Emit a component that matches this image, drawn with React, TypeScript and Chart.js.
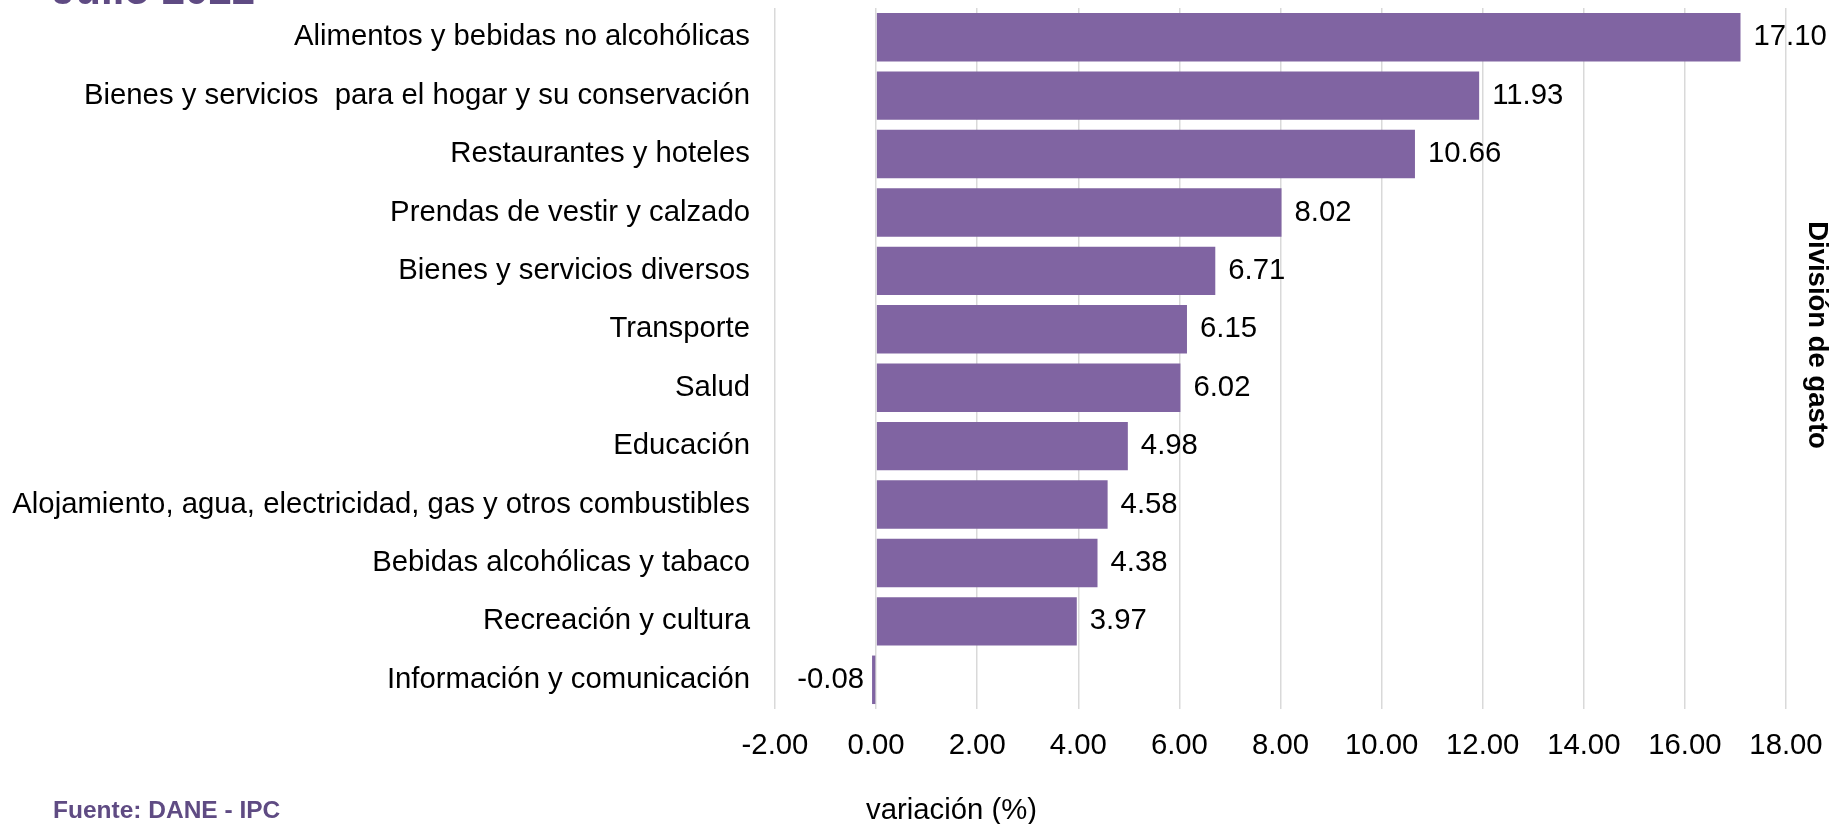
import React, { useEffect, useRef } from "react";
import { Chart, registerables } from "chart.js";

Chart.register(...registerables);

const categories: string[] = [
  "Alimentos y bebidas no alcohólicas",
  "Bienes y servicios  para el hogar y su conservación",
  "Restaurantes y hoteles",
  "Prendas de vestir y calzado",
  "Bienes y servicios diversos",
  "Transporte",
  "Salud",
  "Educación",
  "Alojamiento, agua, electricidad, gas y otros combustibles",
  "Bebidas alcohólicas y tabaco",
  "Recreación y cultura",
  "Información y comunicación",
];

const values: number[] = [17.1, 11.93, 10.66, 8.02, 6.71, 6.15, 6.02, 4.98, 4.58, 4.38, 3.97, -0.08];

const xMin = -2;
const xMax = 18;
const xStep = 2;

const titleText = "Julio 2022";
const sourceText = "Fuente: DANE - IPC";
const xTitleText = "variación (%)";
const yTitleText = "División de gasto";

const FAMILY = '"Liberation Sans", Arial, Helvetica, sans-serif';
const FS = 29.3;
const BAR = "#8064A2";
const PURPLE = "#5f4b83";
const GRID = "#d9d9d9";

const textPlugin = {
  id: "customTexts",
  afterDatasetsDraw(chart: any) {
    const ctx = chart.ctx as CanvasRenderingContext2D;
    const meta = chart.getDatasetMeta(0);
    ctx.save();
    ctx.font = `${FS}px ${FAMILY}`;
    ctx.fillStyle = "#000";
    ctx.textBaseline = "middle";
    meta.data.forEach((bar: any, i: number) => {
      const v = values[i];
      const p = bar.getProps(["x", "y"], true);
      if (v >= 0) {
        ctx.textAlign = "left";
        ctx.fillText(v.toFixed(2), p.x + 13, p.y);
      } else {
        ctx.textAlign = "right";
        ctx.fillText(v.toFixed(2), p.x - 8, p.y);
      }
    });
    ctx.restore();
  },
  afterDraw(chart: any) {
    const ctx = chart.ctx as CanvasRenderingContext2D;
    ctx.save();
    ctx.fillStyle = PURPLE;
    ctx.textAlign = "left";
    ctx.textBaseline = "alphabetic";
    ctx.font = `bold 42px ${FAMILY}`;
    ctx.fillText(titleText, 52, 4);
    ctx.font = `bold 24.5px ${FAMILY}`;
    ctx.fillText(sourceText, 53, 818);
    ctx.fillStyle = "#000";
    ctx.font = `${FS}px ${FAMILY}`;
    ctx.fillText(xTitleText, 866, 819);
    ctx.font = `bold 27.5px ${FAMILY}`;
    ctx.translate(1817, 335);
    ctx.rotate(Math.PI / 2);
    ctx.textAlign = "center";
    ctx.textBaseline = "middle";
    ctx.fillText(yTitleText, 0, 0);
    ctx.restore();
  },
};

export default function App() {
  const ref = useRef<HTMLCanvasElement | null>(null);

  useEffect(() => {
    document.body.style.margin = "0";
    document.body.style.overflow = "hidden";
    if (!ref.current) return;
    const chart = new Chart(ref.current, {
      type: "bar",
      data: {
        labels: categories,
        datasets: [
          {
            data: values,
            backgroundColor: BAR,
            borderWidth: 0,
            barPercentage: 0.83,
            categoryPercentage: 1,
          },
        ],
      },
      options: {
        indexAxis: "y",
        animation: false,
        responsive: false,
        devicePixelRatio: 1,
        layout: { padding: { top: 8, right: 49, left: 0, bottom: 0 } },
        plugins: {
          legend: { display: false },
          tooltip: { enabled: false },
          title: { display: false },
        },
        scales: {
          x: {
            type: "linear",
            min: xMin,
            max: xMax,
            ticks: {
              stepSize: xStep,
              padding: 19,
              color: "#000",
              font: { family: FAMILY, size: FS },
              callback: (v: any) => Number(v).toFixed(2),
            },
            grid: { color: GRID, lineWidth: 1.5, drawTicks: false },
            border: { display: false },
            afterFit: (s: any) => {
              s.height = 115;
              s.paddingLeft = 0;
              s.paddingRight = 0;
              s.paddingTop = 0;
              s.paddingBottom = 0;
            },
          },
          y: {
            type: "category",
            ticks: {
              padding: 25,
              color: "#000",
              font: { family: FAMILY, size: FS },
              autoSkip: false,
            },
            grid: { display: false, drawTicks: false },
            border: { display: false },
            afterFit: (s: any) => {
              s.width = 775;
              s.paddingLeft = 0;
              s.paddingRight = 0;
              s.paddingTop = 0;
              s.paddingBottom = 0;
            },
          },
        },
      },
      plugins: [textPlugin],
    });
    return () => chart.destroy();
  }, []);

  return (
    <div style={{ width: 1835, height: 824, overflow: "hidden", background: "#fff" }}>
      <canvas ref={ref} width={1835} height={824} style={{ width: 1835, height: 824, display: "block" }} />
    </div>
  );
}
